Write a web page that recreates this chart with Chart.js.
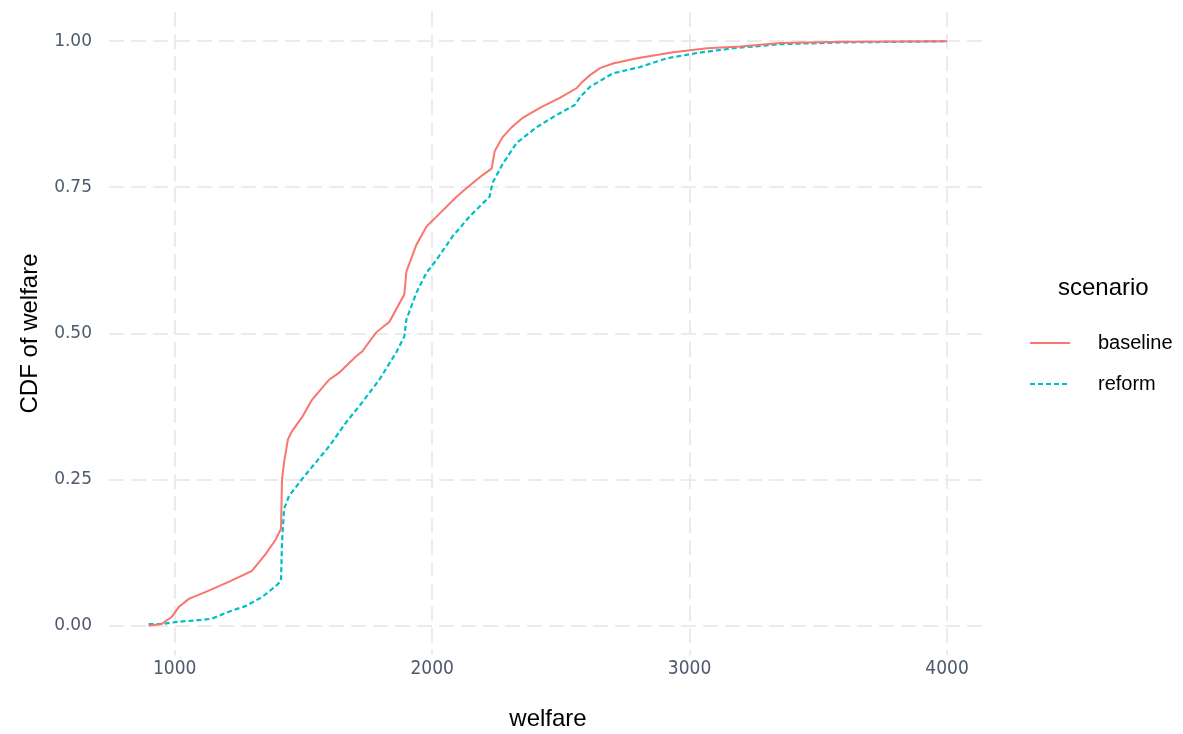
<!DOCTYPE html>
<html>
<head>
<meta charset="utf-8">
<script src="https://cdn.jsdelivr.net/npm/chart.js@4/dist/chart.umd.min.js"></script>
<style>
  html, body { margin: 0; padding: 0; background: #fff; }
  #wrap { width: 1183px; height: 734px; }
</style>
</head>
<body>
<div id="wrap"><canvas id="cdf" width="1183" height="734"></canvas></div>
<script>
const xTicks = [1000, 2000, 3000, 4000]
const yTicks = [0, 0.25, 0.5, 0.75, 1]

const welfareBaseline = [899, 949, 988, 1016, 1055, 1121, 1210, 1300, 1354, 1393, 1413, 1417, 1425, 1440, 1456, 1495, 1534, 1600, 1639, 1705, 1728, 1783, 1834, 1892, 1900, 1939, 1978, 2017, 2095, 2134, 2196, 2231, 2243, 2274, 2309, 2352, 2418, 2496, 2562, 2582, 2613, 2652, 2702, 2796, 2936, 3069, 3197, 3353, 3600, 4000]
const cdfBaseline = [0, 0.003, 0.015, 0.032, 0.046, 0.058, 0.075, 0.094, 0.123, 0.148, 0.166, 0.251, 0.280, 0.319, 0.333, 0.357, 0.387, 0.421, 0.433, 0.461, 0.469, 0.502, 0.520, 0.567, 0.606, 0.652, 0.683, 0.700, 0.734, 0.749, 0.771, 0.782, 0.812, 0.836, 0.853, 0.869, 0.886, 0.903, 0.920, 0.930, 0.942, 0.954, 0.962, 0.971, 0.981, 0.988, 0.991, 0.997, 0.999, 1.0]

const welfareReform = [899, 949, 1016, 1082, 1144, 1210, 1277, 1339, 1393, 1413, 1417, 1425, 1444, 1495, 1549, 1600, 1666, 1728, 1795, 1861, 1892, 1900, 1939, 1978, 2017, 2079, 2145, 2223, 2235, 2274, 2328, 2406, 2484, 2554, 2574, 2613, 2702, 2808, 2913, 3030, 3170, 3353, 3600, 4000]
const cdfReform = [0.003, 0.003, 0.007, 0.009, 0.012, 0.024, 0.034, 0.049, 0.068, 0.077, 0.143, 0.200, 0.222, 0.251, 0.280, 0.307, 0.348, 0.382, 0.421, 0.468, 0.495, 0.524, 0.570, 0.604, 0.626, 0.666, 0.700, 0.734, 0.758, 0.790, 0.826, 0.853, 0.874, 0.891, 0.904, 0.922, 0.945, 0.956, 0.971, 0.980, 0.988, 0.995, 0.998, 1.0]

const scenarios = ["baseline", "reform"]
const colors = ["#F8766D", "#00BFC4"]
const dashes = [[], [5, 3]]

const toPoints = (xs, ys) => xs.map((x, i) => ({ x: x, y: ys[i] }))

const tickColor = "#4d5a6c"
const gridColor = "#ebebeb"

// legend drawn on the right, ggplot style
const sideLegend = {
  id: "sideLegend",
  afterDraw(chart) {
    const ctx = chart.ctx
    ctx.save()
    ctx.fillStyle = "#000"
    ctx.font = "24px 'Liberation Sans', Arial, sans-serif"
    ctx.textBaseline = "middle"
    ctx.textAlign = "left"
    ctx.fillText("scenario", 1058, 288)
    ctx.font = "20px 'Liberation Sans', Arial, sans-serif"
    scenarios.forEach((name, i) => {
      const y = 343 + i * 41
      ctx.strokeStyle = colors[i]
      ctx.lineWidth = 2
      ctx.setLineDash(dashes[i])
      ctx.beginPath()
      ctx.moveTo(1030, y)
      ctx.lineTo(1070, y)
      ctx.stroke()
      ctx.setLineDash([])
      ctx.fillText(name, 1098, y)
    })
    ctx.restore()
  }
}

new Chart(document.getElementById("cdf"), {
  type: "line",
  data: {
    datasets: [
      {
        label: scenarios[0],
        data: toPoints(welfareBaseline, cdfBaseline),
        borderColor: colors[0],
        borderWidth: 2,
        borderDash: dashes[0],
        pointRadius: 0,
        tension: 0,
        fill: false
      },
      {
        label: scenarios[1],
        data: toPoints(welfareReform, cdfReform),
        borderColor: colors[1],
        borderWidth: 2.2,
        borderDash: dashes[1],
        pointRadius: 0,
        tension: 0,
        fill: false
      }
    ]
  },
  options: {
    responsive: false,
    animation: false,
    layout: { padding: { top: 12, right: 196, left: 0, bottom: 0 } },
    plugins: {
      legend: { display: false },
      tooltip: { enabled: false }
    },
    scales: {
      x: {
        type: "linear",
        min: 745,
        max: 4155,
        afterBuildTicks: (scale) => { scale.ticks = xTicks.map(v => ({ value: v })) },
        afterFit: (scale) => {
          scale.height = 79
          scale.paddingLeft = 0
          scale.paddingRight = 0
        },
        border: { display: false, dash: [15, 7] },
        grid: { color: gridColor, lineWidth: 2, drawTicks: false },
        ticks: {
          color: tickColor,
          padding: 3,
          maxRotation: 0,
          font: { family: "'DejaVu Sans Condensed', 'DejaVu Sans', sans-serif", size: 19 },
          callback: (v) => String(v)
        },
        title: {
          display: true,
          text: "welfare",
          color: "#000",
          font: { family: "'Liberation Sans', Arial, sans-serif", size: 24 },
          padding: { top: 0, bottom: 0 }
        }
      },
      y: {
        min: -0.05,
        max: 1.05,
        afterBuildTicks: (scale) => { scale.ticks = yTicks.map(v => ({ value: v })) },
        afterFit: (scale) => {
          scale.width = 109
          scale.paddingTop = 0
          scale.paddingBottom = 0
        },
        border: { display: false, dash: [15, 7] },
        grid: { color: gridColor, lineWidth: 2, drawTicks: false },
        ticks: {
          color: tickColor,
          padding: 17,
          font: { family: "'DejaVu Sans', sans-serif", size: 17 },
          callback: (v) => Number(v).toFixed(2)
        },
        title: {
          display: true,
          text: "CDF of welfare",
          color: "#000",
          font: { family: "'Liberation Sans', Arial, sans-serif", size: 24 },
          padding: { top: 16, bottom: 0 }
        }
      }
    }
  },
  plugins: [sideLegend]
})
</script>
</body>
</html>
